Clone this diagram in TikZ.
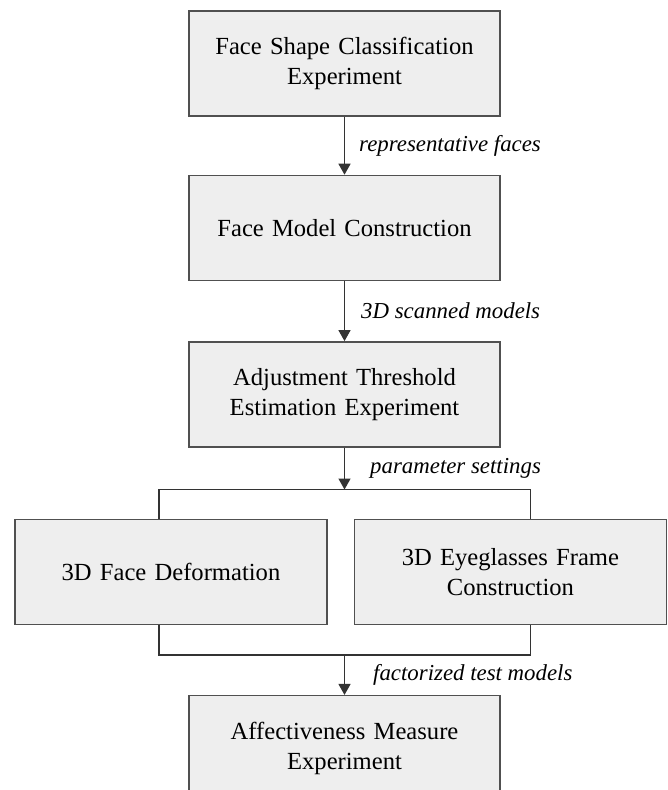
\documentclass[tikz,border=0pt]{standalone}
\usepackage{fontspec}
\setmainfont{Liberation Serif}
\usetikzlibrary{arrows.meta, positioning, calc}

\definecolor{boxfill}{HTML}{EEEEEE}
\definecolor{boxline}{HTML}{505050}
\definecolor{linkline}{HTML}{333333}

\begin{document}
\begin{tikzpicture}[
    every node/.style={font=\fontsize{14}{17}\selectfont},
    box/.style={rectangle, draw=boxline, fill=boxfill, line width=0.8pt,
                minimum width=6.22cm, minimum height=2.1cm,
                text width=6cm, align=center, inner sep=0pt},
    sidebox/.style={box, minimum width=6.24cm},
    link/.style={draw=linkline, line width=0.8pt},
    arr/.style={link, -{Triangle[length=2.2mm, width=2.4mm]}},
    lbl/.style={font=\fontsize{13}{15}\selectfont\itshape, inner sep=0pt},
]
\useasboundingbox (0,0) rectangle (13.34,-15.8);

\node[box] (classify) at (6.89,-1.27) {Face Shape Classification\\Experiment};
\node[box, below=1.16cm of classify] (facemodel) {Face Model Construction};
\node[box, below=1.2cm of facemodel] (threshold) {Adjustment Threshold\\Estimation Experiment};

\node[sidebox, below=1.42cm of threshold, xshift=-3.47cm] (deform) {3D Face Deformation};
\node[sidebox, right=0.52cm of deform] (frame) {3D Eyeglasses Frame\\Construction};

\coordinate (split) at ($(threshold.south)+(0,-0.84)$);
\coordinate (join) at ($(deform.south -| threshold.south)+(0,-0.6)$);

\node[box, below=0.8cm of join] (affect) {Affectiveness Measure\\Experiment};

\draw[arr] (classify) -- node[lbl, right=0.28cm] {representative faces} (facemodel);
\draw[arr] (facemodel) -- node[lbl, right=0.32cm] {3D scanned models} (threshold);
\draw[arr] (threshold) -- node[lbl, right=0.5cm] {parameter settings} (split);
\draw[link] ([xshift=-0.24cm]deform.north) |- (split) -| ([xshift=0.4cm]frame.north);
\draw[link] ([xshift=-0.24cm]deform.south) |- (join) -| ([xshift=0.4cm]frame.south);
\draw[arr] (join) -- node[lbl, right=0.56cm] {factorized test models} (affect);

\end{tikzpicture}
\end{document}
